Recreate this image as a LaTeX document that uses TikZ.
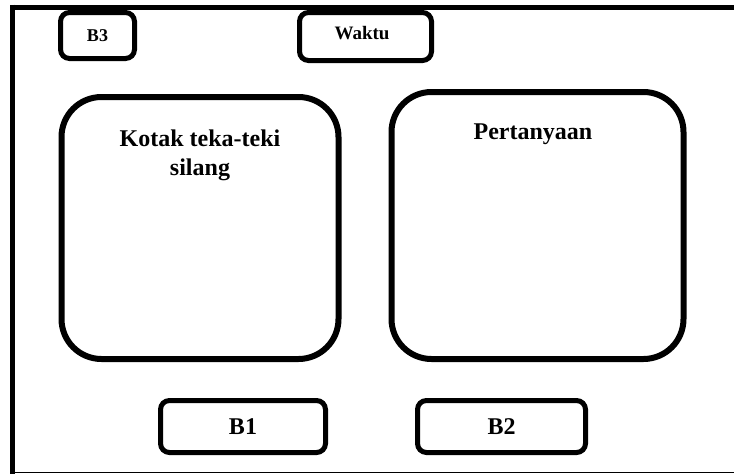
\documentclass[tikz,border=0pt]{standalone}
\usepackage{fontspec}
\setmainfont{Liberation Serif}
\begin{document}
\begin{tikzpicture}[x=1pt,y=-1pt,
  smallbox/.style={draw=black, line width=5pt, rounded corners=9pt, inner sep=0pt, font=\bfseries\fontsize{18}{20}\selectfont},
  btnbox/.style={draw=black, line width=5pt, rounded corners=9pt, inner sep=0pt, font=\bfseries\fontsize{24}{26}\selectfont},
  bigbox/.style={draw=black, line width=6pt, rounded corners=40pt, inner sep=0pt},
  bigtext/.style={font=\bfseries\fontsize{24}{29}\selectfont, align=center, inner sep=0pt}]
\useasboundingbox (0,0) rectangle (734,474);
% outer frame
\draw[line width=5pt] (10,7) -- (734,7);
\draw[line width=5pt] (12.5,4.5) -- (12.5,474);
\draw[line width=1.5pt] (10,472.5) -- (734,472.5);
% top boxes
\node[smallbox, minimum width=74pt, minimum height=46pt] (b3) at (97.5,35.5) {\raisebox{-1.5pt}{B3}};
\node[smallbox, minimum width=132pt, minimum height=48pt] (waktu) at (365.5,36.5) {};
\node[font=\bfseries\fontsize{19}{20}\selectfont, inner sep=0pt] (waktut) at (362,33) {Waktu};
% big boxes
\node[bigbox, minimum width=277pt, minimum height=262pt] (kotak) at (200,228) {};
\node[bigtext] (kotakt) at (200,155) {Kotak teka-teki\\silang};
\node[bigbox, minimum width=292pt, minimum height=267pt] (tanya) at (537.5,225.5) {};
\node[bigtext] (tanyat) at (533,134) {Pertanyaan};
% bottom buttons
\node[btnbox, minimum width=165pt, minimum height=52pt] (b1) at (243,426.5) {\raisebox{-2pt}{B1}};
\node[btnbox, minimum width=168pt, minimum height=52pt] (b2) at (501.5,426.5) {\raisebox{-2pt}{B2}};
\end{tikzpicture}
\end{document}
